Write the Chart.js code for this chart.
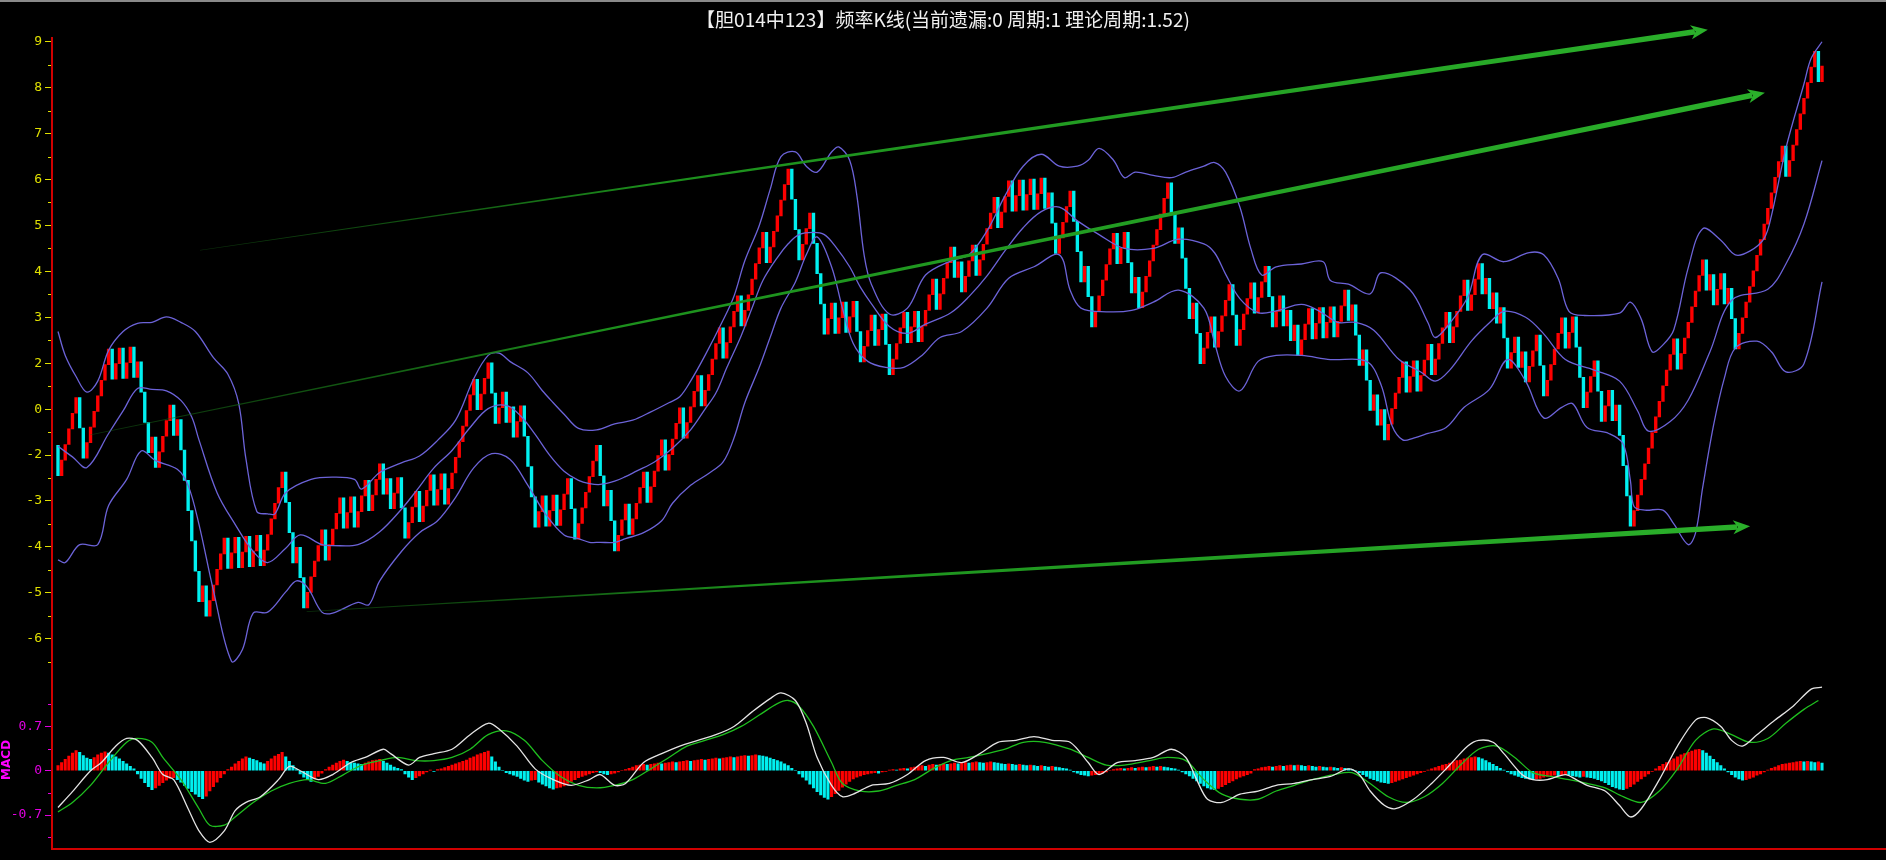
<!DOCTYPE html>
<html>
<head>
<meta charset="utf-8">
<script src="https://cdn.jsdelivr.net/npm/chart.js@4.4.1/dist/chart.umd.min.js"></script>
<style>
  html, body { margin: 0; padding: 0; background: #000; overflow: hidden; }
  #wrap { position: relative; width: 1886px; height: 860px; background: #000; }
  #topline { position: absolute; left: 0; top: 0; width: 1886px; height: 2px; background: #8a8a8a; z-index: 2; }
  #main { position: absolute; left: 0; top: 0; }
  #macd { position: absolute; left: 0; top: 660px; }
</style>
</head>
<body>
<div id="wrap">
  <div id="topline"></div>
  <canvas id="main" width="1886" height="684"></canvas>
  <canvas id="macd" width="1886" height="200"></canvas>
</div>
<script>
const TITLE = '【胆014中123】频率K线(当前遗漏:0 周期:1 理论周期:1.52)';

// frequency K line: open of each bar is the previous close
const firstOpen = 0.21;
const closes = [
  -0.45, -0.11, 0.23, 0.57, 0.91, 1.25, 0.59, -0.07, 0.27, 0.61,
  0.95, 1.29, 1.63, 1.97, 2.31, 1.65, 1.99, 2.33, 1.67, 2.01,
  2.35, 1.69, 2.03, 1.37, 0.71, 0.05, 0.39, -0.27, 0.07, 0.41,
  0.75, 1.09, 0.43, 0.77, 0.11, -0.55, -1.21, -1.87, -2.53, -3.19,
  -2.85, -3.51, -3.17, -2.83, -2.49, -2.15, -1.81, -2.47, -2.13, -1.79,
  -2.45, -2.11, -1.77, -2.43, -2.09, -1.75, -2.41, -2.07, -1.73, -1.39,
  -1.05, -0.71, -0.37, -1.03, -1.69, -2.35, -2.01, -2.67, -3.33, -2.99,
  -2.65, -2.31, -1.97, -1.63, -2.29, -1.95, -1.61, -1.27, -0.93, -1.59,
  -1.25, -0.91, -1.57, -1.23, -0.89, -0.55, -1.21, -0.87, -0.53, -0.19,
  -0.85, -0.51, -1.17, -0.83, -0.49, -1.15, -1.81, -1.47, -1.13, -0.79,
  -1.45, -1.11, -0.77, -0.43, -1.09, -0.75, -0.41, -1.07, -0.73, -0.39,
  -0.05, 0.29, 0.63, 0.97, 1.31, 1.65, 0.99, 1.33, 1.67, 2.01,
  1.35, 0.69, 1.03, 1.37, 0.71, 1.05, 0.39, 0.73, 1.07, 0.41,
  -0.25, -0.91, -1.57, -1.23, -0.89, -1.55, -1.21, -0.87, -1.53, -1.19,
  -0.85, -0.51, -1.17, -1.83, -1.49, -1.15, -0.81, -0.47, -0.13, 0.21,
  -0.45, -1.11, -0.77, -1.43, -2.09, -1.75, -1.41, -1.07, -1.73, -1.39,
  -1.05, -0.71, -0.37, -1.03, -0.69, -0.35, -0.01, 0.33, -0.33, 0.01,
  0.35, 0.69, 1.03, 0.37, 0.71, 1.05, 1.39, 1.73, 1.07, 1.41,
  1.75, 2.09, 2.43, 2.77, 2.11, 2.45, 2.79, 3.13, 3.47, 2.81,
  3.15, 3.49, 3.83, 4.17, 4.51, 4.85, 4.19, 4.53, 4.87, 5.21,
  5.55, 5.89, 6.23, 5.57, 4.91, 4.25, 4.59, 4.93, 5.27, 4.61,
  3.95, 3.29, 2.63, 2.97, 3.31, 2.65, 2.99, 3.33, 2.67, 3.01,
  3.35, 2.69, 2.03, 2.37, 2.71, 3.05, 2.39, 2.73, 3.07, 2.41,
  1.75, 2.09, 2.43, 2.77, 3.11, 2.45, 2.79, 3.13, 2.47, 2.81,
  3.15, 3.49, 3.83, 3.17, 3.51, 3.85, 4.19, 4.53, 3.87, 4.21,
  3.55, 3.89, 4.23, 4.57, 3.91, 4.25, 4.59, 4.93, 5.27, 5.61,
  4.95, 5.29, 5.63, 5.97, 5.31, 5.65, 5.99, 5.33, 5.67, 6.01,
  5.35, 5.69, 6.03, 5.37, 5.71, 5.05, 4.39, 4.73, 5.07, 5.41,
  5.75, 5.09, 4.43, 3.77, 4.11, 3.45, 2.79, 3.13, 3.47, 3.81,
  4.15, 4.49, 4.83, 4.17, 4.51, 4.85, 4.19, 3.53, 3.87, 3.21,
  3.55, 3.89, 4.23, 4.57, 4.91, 5.25, 5.59, 5.93, 5.27, 4.61,
  4.95, 4.29, 3.63, 2.97, 3.31, 2.65, 1.99, 2.33, 2.67, 3.01,
  2.35, 2.69, 3.03, 3.37, 3.71, 3.05, 2.39, 2.73, 3.07, 3.41,
  3.75, 3.09, 3.43, 3.77, 4.11, 3.45, 2.79, 3.13, 3.47, 2.81,
  3.15, 2.49, 2.83, 2.17, 2.51, 2.85, 3.19, 2.53, 2.87, 3.21,
  2.55, 2.89, 3.23, 2.57, 2.91, 3.25, 3.59, 2.93, 3.27, 2.61,
  1.95, 2.29, 1.63, 0.97, 1.31, 0.65, 0.99, 0.33, 0.67, 1.01,
  1.35, 1.69, 2.03, 1.37, 1.71, 2.05, 1.39, 1.73, 2.07, 2.41,
  1.75, 2.09, 2.43, 2.77, 3.11, 2.45, 2.79, 3.13, 3.47, 3.81,
  3.15, 3.49, 3.83, 4.17, 3.51, 3.85, 3.19, 3.53, 2.87, 3.21,
  2.55, 1.89, 2.23, 2.57, 1.91, 2.25, 1.59, 1.93, 2.27, 2.61,
  1.95, 1.29, 1.63, 1.97, 2.31, 2.65, 2.99, 2.33, 2.67, 3.01,
  2.35, 1.69, 1.03, 1.37, 1.71, 2.05, 1.39, 0.73, 1.07, 1.41,
  0.75, 1.09, 0.43, -0.23, -0.89, -1.55, -1.21, -0.87, -0.53, -0.19,
  0.15, 0.49, 0.83, 1.17, 1.51, 1.85, 2.19, 2.53, 1.87, 2.21,
  2.55, 2.89, 3.23, 3.57, 3.91, 4.25, 3.59, 3.93, 3.27, 3.61,
  3.95, 3.29, 3.63, 2.97, 2.31, 2.65, 2.99, 3.33, 3.67, 4.01,
  4.35, 4.69, 5.03, 5.37, 5.71, 6.05, 6.39, 6.73, 6.07, 6.41,
  6.75, 7.09, 7.43, 7.77, 8.11, 8.45, 8.79, 8.13, 8.47
];

// Bollinger lines, [bar index, value]
const upper = [[0,2.69],[2,2.17],[5,1.71],[8,1.37],[11,1.61],[14,2.28],[18,2.69],[22,2.87],[26,2.89],[30,3.01],[34,2.89],[38,2.69],[43,2.12],[47,1.76],[50,1.12],[52,-0.09],[55,-1.23],[58,-1.28],[60,-1.28],[63,-0.82],[70,-0.53],[76,-0.48],[82,-0.53],[84,-0.74],[89,-0.38],[95,-0.17],[100,-0.02],[105,0.32],[110,0.76],[115,1.66],[119,2.17],[122,2.22],[125,2.04],[130,1.79],[134,1.40],[137,1.14],[140,0.89],[144,0.58],[149,0.55],[154,0.68],[159,0.76],[164,0.94],[169,1.14],[172,1.27],[175,1.61],[179,2.17],[184,2.94],[187,3.46],[190,4.23],[194,5.0],[197,5.78],[200,6.50],[204,6.60],[207,6.29],[210,6.16],[214,6.60],[216,6.71],[219,6.42],[221,5.65],[223,4.36],[225,3.72],[230,3.07],[235,3.2],[240,3.92],[247,4.23],[252,4.36],[257,4.88],[262,5.65],[267,6.29],[272,6.55],[277,6.29],[282,6.29],[285,6.42],[288,6.68],[292,6.42],[295,6.04],[298,6.16],[303,6.09],[308,6.04],[312,6.16],[317,6.29],[320,6.37],[323,6.16],[327,5.39],[330,4.49],[333,3.92],[337,4.10],[344,4.16],[350,4.21],[352,3.80],[357,3.72],[363,3.51],[366,3.97],[374,3.60],[379,2.88],[381,2.56],[385,2.87],[390,3.44],[394,4.36],[400,4.21],[407,4.41],[411,4.36],[415,3.85],[418,3.13],[422,3.04],[432,3.09],[435,3.33],[438,2.96],[441,2.25],[444,2.40],[447,2.73],[451,4.08],[455,4.93],[460,4.68],[464,4.36],[468,4.44],[472,4.72],[474,5.21],[478,6.68],[483,8.08],[485,8.64],[488,9.0]];
const middle = [[0,0.19],[4,-0.04],[8,-0.27],[14,0.47],[18,0.96],[22,1.45],[26,1.43],[30,1.40],[34,1.19],[37,0.83],[39,0.33],[44,-0.82],[49,-1.51],[54,-2.10],[58,-2.34],[63,-2.03],[67,-1.74],[73,-1.95],[76,-1.97],[83,-1.95],[89,-1.67],[95,-1.18],[99,-0.79],[104,-0.28],[109,0.1],[114,0.6],[119,1.01],[124,1.08],[128,0.85],[132,0.45],[136,0.0],[140,-0.35],[144,-0.55],[147,-0.62],[150,-0.64],[154,-0.57],[157,-0.47],[160,-0.35],[165,-0.15],[170,0.15],[175,0.55],[179,1.0],[182,1.35],[185,1.9],[189,2.6],[192,3.2],[195,3.8],[199,4.3],[202,4.6],[205,4.8],[209,4.85],[212,4.8],[215,4.55],[219,4.1],[222,3.65],[225,3.3],[230,2.8],[235,2.65],[240,2.85],[247,3.1],[252,3.45],[257,3.9],[262,4.45],[267,4.95],[272,5.3],[277,5.4],[282,5.1],[288,4.8],[295,4.5],[303,4.5],[310,4.7],[317,4.6],[320,4.4],[323,3.94],[327,3.4],[332,3.1],[337,3.14],[344,3.28],[349,3.13],[354,2.89],[359,2.89],[364,2.72],[371,2.08],[377,1.81],[381,1.61],[385,1.85],[391,2.48],[396,2.88],[400,3.13],[406,3.0],[411,2.64],[417,2.08],[425,1.85],[432,1.61],[437,0.96],[440,0.52],[446,0.73],[451,1.20],[457,2.25],[463,3.37],[473,3.61],[478,4.16],[483,5.03],[488,6.41]];
const lower = [[0,-2.28],[2,-2.34],[6,-1.95],[11,-1.95],[14,-1.1],[19,-0.53],[23,0.09],[27,-0.12],[33,-0.31],[36,-0.66],[39,-1.51],[43,-2.95],[48,-4.49],[51,-4.24],[54,-3.44],[58,-3.42],[63,-2.98],[66,-2.74],[69,-2.88],[73,-3.42],[76,-3.44],[83,-3.21],[86,-3.26],[89,-2.74],[95,-2.10],[100,-1.69],[105,-1.43],[110,-0.92],[115,-0.28],[120,0.03],[125,-0.09],[130,-0.66],[135,-1.30],[140,-1.74],[144,-1.82],[147,-1.9],[150,-1.9],[154,-1.9],[157,-1.82],[162,-1.69],[167,-1.43],[170,-1.05],[175,-0.66],[180,-0.40],[184,-0.15],[187,0.37],[190,1.14],[194,1.91],[197,2.56],[200,3.2],[204,3.77],[207,4.36],[210,4.75],[214,4.10],[217,3.2],[220,2.43],[224,2.04],[229,1.91],[234,1.91],[239,2.17],[244,2.56],[250,2.69],[257,3.2],[263,3.85],[270,4.10],[277,4.36],[280,3.59],[283,3.2],[290,3.12],[297,3.15],[303,3.33],[310,3.59],[317,3.2],[320,2.43],[323,1.71],[327,1.40],[332,2.04],[337,2.17],[344,2.17],[352,2.08],[362,2.04],[366,1.53],[369,0.65],[372,0.33],[375,0.37],[379,0.47],[384,0.60],[389,1.04],[396,1.43],[401,2.08],[406,1.61],[411,0.81],[416,1.04],[419,1.12],[423,0.60],[429,0.47],[433,0.24],[435,-0.56],[436,-1.12],[439,-1.20],[444,-1.2],[447,-1.5],[451,-1.95],[453,-1.7],[455,-0.7],[458,0.65],[461,1.68],[464,2.33],[470,2.48],[474,2.25],[478,1.81],[483,1.99],[488,3.77]];

// MACD panel
const macdHist = [
  0.08, 0.13, 0.18, 0.23, 0.28, 0.32,
  0.29, 0.24, 0.2, 0.18,
  0.21, 0.25, 0.28, 0.3,
  0.28, 0.25, 0.22, 0.19, 0.15, 0.11, 0.07, 0.03,
  -0.05, -0.12, -0.19, -0.25, -0.3,
  -0.27, -0.23, -0.19, -0.15, -0.12,
  -0.11,
  -0.14, -0.18, -0.23, -0.28, -0.33, -0.37, -0.41, -0.44,
  -0.4, -0.32, -0.25, -0.18, -0.11, -0.05,
  0.02,
  0.06, 0.11, 0.15, 0.19, 0.22,
  0.2, 0.18, 0.16, 0.13, 0.11,
  0.15, 0.19, 0.23, 0.26, 0.29,
  0.22, 0.15, 0.08, 0.02,
  -0.05, -0.1, -0.14, -0.17,
  -0.13, -0.09, -0.04,
  0.02, 0.06, 0.09, 0.12, 0.15, 0.17,
  0.15, 0.13, 0.12, 0.11, 0.1,
  0.12, 0.14, 0.16, 0.17, 0.18,
  0.15, 0.12, 0.09, 0.06, 0.04, 0.02,
  -0.05, -0.1, -0.14, -0.11, -0.08,
  -0.05, -0.02, 0.01, -0.01, 0.02, 0.03,
  0.05, 0.07, 0.09, 0.11, 0.13, 0.15, 0.17, 0.2, 0.22, 0.25, 0.27, 0.29, 0.31,
  0.22, 0.14, 0.06,
  0.0, -0.03, -0.05, -0.07,
  -0.09, -0.12, -0.15, -0.17, -0.15, -0.14,
  -0.18, -0.21, -0.24, -0.27, -0.29, -0.27, -0.26, -0.24,
  -0.2, -0.17, -0.14, -0.11, -0.09, -0.07, -0.05, -0.03, -0.02,
  -0.03, -0.05, -0.06, -0.05, -0.04, -0.02, 0.0, 0.02,
  0.04, 0.06, 0.08, 0.09, 0.1, 0.09, 0.1, 0.11, 0.12, 0.11, 0.12, 0.13, 0.14, 0.13, 0.14, 0.15, 0.16, 0.15, 0.16, 0.17, 0.18, 0.17, 0.18, 0.19, 0.2, 0.19, 0.2,
  0.21, 0.22, 0.21, 0.22, 0.23, 0.24, 0.23, 0.24, 0.25, 0.24, 0.23, 0.22, 0.2, 0.18, 0.16, 0.14,
  0.11, 0.08, 0.04, 0.0, -0.05, -0.1,
  -0.15, -0.21, -0.27, -0.33, -0.38, -0.42, -0.45, -0.41, -0.36, -0.31, -0.26, -0.21, -0.17, -0.13, -0.1, -0.08, -0.06, -0.05,
  -0.04, -0.03, -0.04, -0.02, -0.01, 0.01, 0.02, 0.01, 0.03, 0.04, 0.03, 0.05, 0.06,
  0.07, 0.08, 0.07, 0.09, 0.1, 0.09, 0.1, 0.11, 0.1, 0.11, 0.12, 0.11, 0.12, 0.13, 0.12, 0.13, 0.14, 0.13, 0.12, 0.13, 0.14, 0.13, 0.12,
  0.11, 0.1, 0.11, 0.1, 0.09, 0.1, 0.09, 0.08, 0.09, 0.08, 0.07, 0.08, 0.07, 0.06, 0.07, 0.06, 0.05,
  0.04, 0.03, 0.01, -0.02, -0.04, -0.06, -0.07, -0.08, -0.07, -0.06, -0.05, -0.04,
  -0.02, 0.0, 0.02, 0.03, 0.04, 0.03, 0.04, 0.05, 0.04, 0.05, 0.06, 0.05, 0.06, 0.07, 0.06, 0.07, 0.06, 0.05, 0.04, 0.03, 0.01, -0.02, -0.05, -0.08,
  -0.12, -0.16, -0.2, -0.24, -0.27, -0.29, -0.3, -0.28, -0.25,
  -0.22, -0.19, -0.16, -0.13, -0.1, -0.08, -0.06, -0.04,
  0.02, 0.03, 0.05, 0.06, 0.07, 0.06, 0.07, 0.08, 0.07, 0.08, 0.09, 0.08, 0.09, 0.08, 0.07, 0.08, 0.07, 0.06, 0.07, 0.06, 0.05, 0.06, 0.05, 0.04, 0.05, 0.04, 0.03, 0.02, 0.0,
  -0.03, -0.06, -0.09, -0.12, -0.14, -0.16, -0.18, -0.19, -0.2, -0.19, -0.17, -0.15, -0.13,
  -0.11, -0.09, -0.07, -0.05, -0.03, -0.01, 0.01, 0.03, 0.05, 0.07, 0.09, 0.1,
  0.12, 0.14, 0.16, 0.17, 0.19, 0.2, 0.21, 0.22, 0.21, 0.19, 0.16, 0.13,
  0.1, 0.07, 0.04, 0.01, -0.02, -0.05, -0.07,
  -0.09, -0.11, -0.12, -0.13, -0.14, -0.13, -0.12, -0.1, -0.09, -0.08,
  -0.07, -0.08, -0.07, -0.06, -0.07, -0.08, -0.09, -0.1, -0.09, -0.1, -0.11, -0.12, -0.14, -0.16,
  -0.19, -0.22, -0.25, -0.27, -0.29, -0.3, -0.28, -0.25, -0.21, -0.17,
  -0.13, -0.09, -0.05, -0.01, 0.03, 0.07, 0.1, 0.13, 0.16,
  0.19, 0.22, 0.25, 0.27, 0.29, 0.31, 0.33, 0.34, 0.32, 0.28,
  0.23, 0.18, 0.13, 0.08, 0.03, -0.02, -0.06, -0.1, -0.13,
  -0.15, -0.14, -0.12, -0.1, -0.07, -0.05, -0.02, 0.01,
  0.04, 0.06, 0.08, 0.1, 0.11, 0.12, 0.13, 0.14, 0.15, 0.14, 0.15, 0.14, 0.13, 0.14, 0.12
];
const dif = [[0,-0.58],[4,-0.33],[9,0.0],[12,0.13],[16,0.39],[19,0.51],[22,0.48],[26,0.21],[29,-0.06],[32,-0.14],[36,-0.6],[39,-0.95],[42,-1.13],[46,-0.95],[49,-0.63],[52,-0.5],[56,-0.41],[61,-0.14],[64,0.07],[67,0.0],[72,-0.14],[76,-0.06],[81,0.13],[85,0.21],[90,0.34],[92,0.27],[97,0.09],[100,0.21],[104,0.27],[109,0.34],[114,0.57],[119,0.75],[122,0.66],[127,0.39],[132,0.03],[137,-0.14],[142,-0.23],[147,-0.14],[150,-0.06],[154,-0.23],[157,-0.2],[162,0.13],[167,0.27],[172,0.39],[177,0.48],[182,0.57],[187,0.70],[192,0.93],[197,1.14],[200,1.23],[204,1.11],[207,0.75],[210,0.21],[214,-0.23],[217,-0.41],[220,-0.37],[225,-0.23],[230,-0.2],[235,-0.06],[240,0.16],[245,0.21],[250,0.13],[255,0.27],[260,0.45],[265,0.48],[270,0.54],[275,0.48],[280,0.45],[285,0.13],[288,-0.06],[293,0.13],[298,0.16],[303,0.21],[308,0.34],[312,0.21],[315,-0.14],[318,-0.45],[322,-0.5],[327,-0.37],[332,-0.32],[337,-0.23],[342,-0.2],[347,-0.14],[352,-0.09],[357,0.03],[360,-0.06],[363,-0.32],[367,-0.55],[370,-0.6],[375,-0.45],[380,-0.2],[385,0.09],[390,0.39],[393,0.48],[397,0.45],[400,0.27],[405,-0.06],[408,-0.14],[412,-0.14],[417,-0.06],[420,-0.14],[423,-0.23],[428,-0.32],[432,-0.55],[435,-0.73],[438,-0.6],[443,-0.14],[448,0.39],[453,0.8],[456,0.84],[460,0.70],[463,0.48],[466,0.39],[470,0.57],[475,0.8],[480,1.02],[485,1.29],[488,1.32]];
const dea = [[0,-0.65],[4,-0.5],[9,-0.23],[14,0.13],[19,0.45],[22,0.51],[26,0.45],[29,0.21],[34,-0.14],[39,-0.6],[42,-0.86],[46,-0.86],[49,-0.73],[54,-0.5],[59,-0.32],[64,-0.2],[69,-0.14],[74,-0.2],[79,-0.06],[84,0.09],[89,0.16],[94,0.21],[99,0.16],[104,0.16],[109,0.21],[114,0.34],[119,0.57],[124,0.63],[129,0.48],[134,0.16],[139,-0.09],[144,-0.23],[149,-0.27],[154,-0.23],[159,-0.14],[164,0.03],[169,0.21],[174,0.39],[179,0.48],[184,0.57],[189,0.70],[194,0.88],[199,1.06],[202,1.11],[205,1.02],[209,0.70],[214,0.13],[217,-0.2],[222,-0.32],[227,-0.32],[232,-0.23],[237,-0.14],[242,0.03],[247,0.16],[252,0.21],[257,0.27],[262,0.34],[267,0.45],[273,0.45],[280,0.34],[285,0.21],[290,0.09],[295,0.09],[302,0.16],[307,0.21],[312,0.16],[317,-0.14],[322,-0.37],[327,-0.45],[332,-0.45],[337,-0.32],[342,-0.23],[347,-0.14],[353,-0.06],[358,-0.03],[363,-0.2],[368,-0.41],[373,-0.5],[378,-0.41],[383,-0.2],[388,0.09],[393,0.34],[398,0.39],[403,0.21],[408,-0.03],[413,-0.09],[418,-0.14],[423,-0.2],[428,-0.27],[433,-0.41],[438,-0.5],[443,-0.32],[448,0.03],[453,0.48],[458,0.66],[463,0.57],[468,0.45],[473,0.51],[478,0.75],[483,0.97],[487,1.11]];

// hand drawn trend arrows, [bar index, value]
const arrows = [
  { from: [39.3, 4.46], to: [456.4, 9.26] },
  { from: [8.9, 0.44], to: [472.2, 7.89] },
  { from: [68.8, -3.41], to: [468.1, -1.55] }
];

// axis ticks as printed on the chart
const yTickValues = [9, 8, 7, 6, 5, 4, 3, 2, 1, 0, -1, -2, -3, -4];
const yTickLabels = ['9', '8', '7', '6', '5', '4', '3', '2', '0', '-2', '-3', '-4', '-5', '-6'];
const yMinorTicks = [8.5, 7.5, 6.5, 5.5, 4.5, 3.5, 2.5, 1.5, 0.5, -0.5, -1.5, -2.5, -3.5, -4.5];
const macdTickValues = [0.7, 0, -0.7];
const macdTickLabels = ['0.7', '0', '-0.7'];
const macdMinorTicks = [1.05, 0.35, -0.35, -1.05];

const RED = '#ff0000';
const CYAN = '#00f0f0';
const AXIS_RED = '#d00000';
const YELLOW = '#e0e000';
const MAGENTA = '#e000e0';
const BAND = '#6c63d8';
const X_MIN = -1.66, X_MAX = 505.7;

const opens = closes.map((c, i) => i === 0 ? firstOpen : closes[i - 1]);
const candleColors = closes.map((c, i) => c >= opens[i] ? RED : CYAN);
const histColors = macdHist.map((v, i) => (i === 0 ? v >= 0 : v >= macdHist[i - 1]) ? RED : CYAN);
const toPts = arr => arr.map(([x, y]) => ({ x, y }));

const minorTicks = {
  id: 'minorTicks',
  afterDraw(chart, args, opts) {
    const s = chart.scales.y;
    const ctx = chart.ctx;
    const left = chart.chartArea.left;
    ctx.save();
    ctx.strokeStyle = opts.color;
    ctx.lineWidth = 1;
    opts.values.forEach(v => {
      const py = Math.round(s.getPixelForValue(v)) + 0.5;
      ctx.beginPath();
      ctx.moveTo(left - 1 - opts.length, py);
      ctx.lineTo(left - 1, py);
      ctx.stroke();
    });
    ctx.restore();
  }
};

const trendArrows = {
  id: 'trendArrows',
  afterDatasetsDraw(chart) {
    const { ctx, scales: { x, y } } = chart;
    arrows.forEach(a => {
      const x1 = x.getPixelForValue(a.from[0]), y1 = y.getPixelForValue(a.from[1]);
      const x2 = x.getPixelForValue(a.to[0]), y2 = y.getPixelForValue(a.to[1]);
      const len = Math.hypot(x2 - x1, y2 - y1);
      const ux = (x2 - x1) / len, uy = (y2 - y1) / len;
      const nx = -uy, ny = ux;
      const head = 17, hw = 7, w0 = 0.3, w1 = 2.8;
      const bx = x2 - ux * (head - 4), by = y2 - uy * (head - 4);
      const grad = ctx.createLinearGradient(x1, y1, x2, y2);
      grad.addColorStop(0, 'rgba(20,90,20,0.5)');
      grad.addColorStop(0.3, '#1c8f1c');
      grad.addColorStop(1, '#2bb02b');
      ctx.save();
      ctx.fillStyle = grad;
      ctx.beginPath();
      ctx.moveTo(x1 + nx * w0, y1 + ny * w0);
      ctx.lineTo(bx + nx * w1, by + ny * w1);
      ctx.lineTo(bx - nx * w1, by - ny * w1);
      ctx.lineTo(x1 - nx * w0, y1 - ny * w0);
      ctx.closePath();
      ctx.fill();
      ctx.fillStyle = '#2bb02b';
      ctx.beginPath();
      ctx.moveTo(x2, y2);
      ctx.lineTo(x2 - ux * head + nx * hw, y2 - uy * head + ny * hw);
      ctx.lineTo(x2 - ux * head * 0.72, y2 - uy * head * 0.72);
      ctx.lineTo(x2 - ux * head - nx * hw, y2 - uy * head - ny * hw);
      ctx.closePath();
      ctx.fill();
      ctx.restore();
    });
  }
};

const bottomLine = {
  id: 'bottomLine',
  afterDraw(chart) {
    const { ctx, chartArea } = chart;
    ctx.save();
    ctx.strokeStyle = AXIS_RED;
    ctx.lineWidth = 2;
    ctx.beginPath();
    ctx.moveTo(chartArea.left - 1, chartArea.bottom);
    ctx.lineTo(chart.width, chartArea.bottom);
    ctx.stroke();
    ctx.restore();
  }
};

const xScale = { type: 'linear', min: X_MIN, max: X_MAX, display: false, offset: false };

new Chart(document.getElementById('main'), {
  type: 'bar',
  data: {
    datasets: [
      {
        label: 'K',
        data: closes.map((c, i) => ({ x: i, y: [opens[i], c] })),
        backgroundColor: candleColors,
        borderWidth: 0,
        barThickness: 2.7,
        order: 2
      },
      { type: 'line', label: 'UP', data: toPts(upper), borderColor: BAND, borderWidth: 1.3, pointRadius: 0, tension: 0.35, order: 1 },
      { type: 'line', label: 'MID', data: toPts(middle), borderColor: BAND, borderWidth: 1.3, pointRadius: 0, tension: 0.35, order: 1 },
      { type: 'line', label: 'DN', data: toPts(lower), borderColor: BAND, borderWidth: 1.3, pointRadius: 0, tension: 0.35, order: 1 }
    ]
  },
  options: {
    responsive: false,
    animation: false,
    events: [],
    layout: { padding: { left: 0, right: 0, top: 0, bottom: 0 } },
    plugins: {
      legend: { display: false },
      tooltip: { enabled: false },
      title: {
        display: true,
        text: TITLE,
        color: '#f0f0f0',
        font: { family: '"Noto Sans CJK SC", "Noto Sans", sans-serif', size: 19, weight: 'normal' },
        padding: { top: 8, bottom: 7 }
      },
      minorTicks: { values: yMinorTicks, color: YELLOW, length: 3 }
    },
    scales: {
      x: xScale,
      y: {
        type: 'linear',
        min: -4.75,
        max: 9.086,
        afterBuildTicks: s => { s.ticks = yTickValues.map(v => ({ value: v })); },
        afterFit: s => { s.width = 52; },
        ticks: {
          autoSkip: false,
          color: YELLOW,
          padding: 3,
          font: { family: '"DejaVu Sans Mono", monospace', size: 13 },
          callback: v => { const k = yTickValues.indexOf(v); return k < 0 ? '' : yTickLabels[k]; }
        },
        grid: { drawOnChartArea: false, tickLength: 7, tickColor: YELLOW, color: YELLOW },
        border: { display: true, color: AXIS_RED, width: 2 }
      }
    }
  },
  plugins: [minorTicks, trendArrows]
});

new Chart(document.getElementById('macd'), {
  type: 'bar',
  data: {
    datasets: [
      {
        label: 'MACD',
        data: macdHist.map((v, i) => ({ x: i, y: v })),
        backgroundColor: histColors,
        borderWidth: 0,
        barThickness: 2.4,
        order: 3
      },
      { type: 'line', label: 'DEA', data: toPts(dea), borderColor: '#1fbf1f', borderWidth: 1.3, pointRadius: 0, tension: 0.3, order: 2 },
      { type: 'line', label: 'DIF', data: toPts(dif), borderColor: '#e4e4e4', borderWidth: 1.3, pointRadius: 0, tension: 0.3, order: 1 }
    ]
  },
  options: {
    responsive: false,
    animation: false,
    events: [],
    layout: { padding: { left: 0, right: 0, top: 0, bottom: 11 } },
    plugins: {
      legend: { display: false },
      tooltip: { enabled: false },
      minorTicks: { values: macdMinorTicks, color: MAGENTA, length: 3 }
    },
    scales: {
      x: xScale,
      y: {
        type: 'linear',
        min: -1.236,
        max: 1.579,
        afterBuildTicks: s => { s.ticks = macdTickValues.map(v => ({ value: v })); },
        afterFit: s => { s.width = 52; },
        title: {
          display: true,
          text: 'MACD',
          color: '#ff00ff',
          font: { family: '"DejaVu Sans", sans-serif', size: 12, weight: 'bold' },
          padding: 0
        },
        ticks: {
          autoSkip: false,
          color: MAGENTA,
          padding: 3,
          font: { family: '"DejaVu Sans Mono", monospace', size: 13 },
          callback: v => { const k = macdTickValues.indexOf(v); return k < 0 ? '' : macdTickLabels[k]; }
        },
        grid: { drawOnChartArea: false, tickLength: 7, tickColor: MAGENTA, color: MAGENTA },
        border: { display: true, color: AXIS_RED, width: 2 }
      }
    }
  },
  plugins: [minorTicks, bottomLine]
});
</script>
</body>
</html>
